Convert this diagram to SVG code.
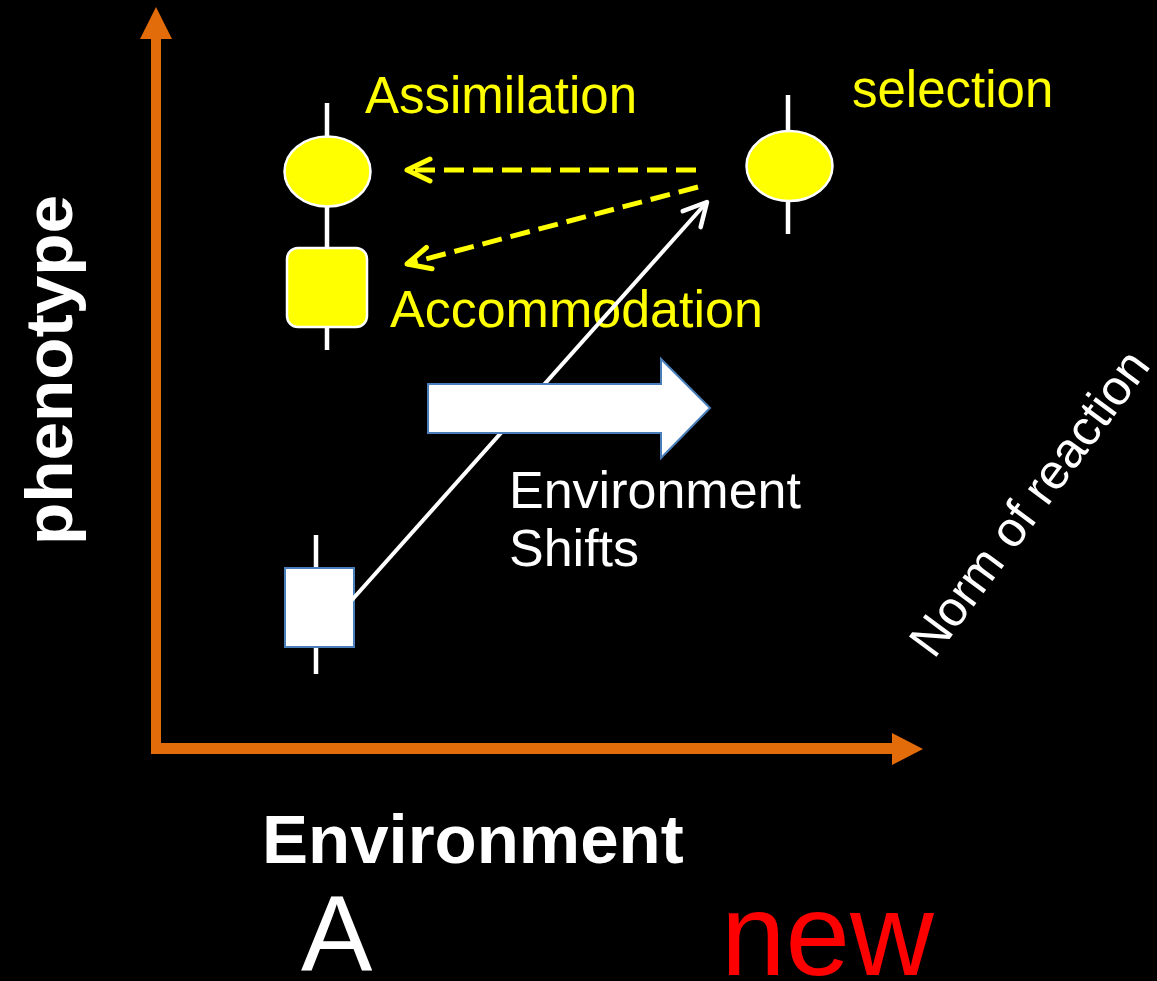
<svg xmlns="http://www.w3.org/2000/svg" width="1157" height="981" viewBox="0 0 1157 981">
<style>
.axis{fill:#E36C0A}
.stem{stroke:#FFFFFF;stroke-width:4.5}
.ynode{fill:#FFFF00;stroke:#FFFFFF;stroke-width:2.5}
.bnode{fill:#FFFFFF;stroke:#4A7EBB;stroke-width:2}
.dash{stroke:#FFFF00;stroke-width:5;stroke-dasharray:20 9;fill:none}
.ylab{fill:#FFFF00;font-family:"Liberation Sans",Arial,sans-serif}
.wlab{fill:#FFFFFF;font-family:"Liberation Sans",Arial,sans-serif}
.bold{fill:#FFFFFF;font-family:"Liberation Sans",Arial,sans-serif;font-weight:bold}
</style>
<defs>
<marker id="yhead" markerUnits="userSpaceOnUse" markerWidth="40" markerHeight="40" viewBox="-20 -20 40 40" refX="0" refY="0" orient="auto" overflow="visible">
<path d="M-23,-11 L0,0 L-23,11" fill="none" stroke="#FFFF00" stroke-width="5" stroke-linecap="round" stroke-linejoin="round"/>
</marker>
<marker id="whead" markerUnits="userSpaceOnUse" markerWidth="40" markerHeight="40" viewBox="-20 -20 40 40" refX="0" refY="0" orient="auto" overflow="visible">
<path d="M-23,-12 L0,0 L-23,12" fill="none" stroke="#FFFFFF" stroke-width="4.5" stroke-linecap="round" stroke-linejoin="round"/>
</marker>
</defs>
<rect x="0" y="0" width="1157" height="981" fill="#000000"/>

<g id="axes">
<rect class="axis" x="151" y="38" width="10" height="716"/>
<polygon class="axis" points="156,7 140,39 172,39"/>
<rect class="axis" x="151" y="743" width="742" height="11"/>
<polygon class="axis" points="892,733 923,749 892,765"/>
</g>

<g id="labels">
<text class="bold" font-size="66" transform="translate(72,545) rotate(-90)" textLength="350" lengthAdjust="spacingAndGlyphs">phenotype</text>
<text class="bold" x="262" y="863" font-size="69">Environment</text>
<text x="301" y="971" fill="#FFFFFF" font-family="Liberation Sans,Arial,sans-serif" font-size="107">A</text>
<text x="721" y="975" fill="#FF0000" font-family="Liberation Sans,Arial,sans-serif" font-size="116">new</text>
<text class="wlab" font-size="49.5" transform="translate(934,660) rotate(-53.5)">Norm of reaction</text>
</g>

<g id="node-assimilation">
<line class="stem" x1="327" y1="103" x2="327" y2="350"/>
<ellipse class="ynode" cx="327.5" cy="171.5" rx="43" ry="35"/>
<text class="ylab" x="365" y="113" font-size="51">Assimilation</text>
</g>

<g id="node-accommodation">
<rect class="ynode" x="287" y="248" width="80" height="79" rx="11" ry="11"/>
<text class="ylab" x="390" y="327" font-size="52">Accommodation</text>
</g>

<g id="node-selection">
<line class="stem" x1="788" y1="95" x2="788" y2="234"/>
<ellipse class="ynode" cx="789.5" cy="166" rx="43" ry="35"/>
<text class="ylab" x="852" y="107" font-size="51">selection</text>
</g>

<g id="node-start">
<line class="stem" x1="316" y1="535" x2="316" y2="674"/>
<rect class="bnode" x="285" y="568" width="69" height="79"/>
</g>

<g id="connectors">
<line class="dash" x1="696" y1="170" x2="407" y2="170" marker-end="url(#yhead)"/>
<line class="dash" x1="698" y1="187" x2="407" y2="264" marker-end="url(#yhead)"/>
<line x1="343" y1="610" x2="707" y2="202" stroke="#FFFFFF" stroke-width="4" marker-end="url(#whead)"/>
</g>

<g id="environment-shift">
<polygon points="428,384 661,384 661,359 710,408 661,458 661,433 428,433" fill="#FFFFFF" stroke="#4A7EBB" stroke-width="2"/>
<text class="wlab" x="509" y="508" font-size="52">Environment</text>
<text class="wlab" x="509" y="566" font-size="52">Shifts</text>
</g>
</svg>
